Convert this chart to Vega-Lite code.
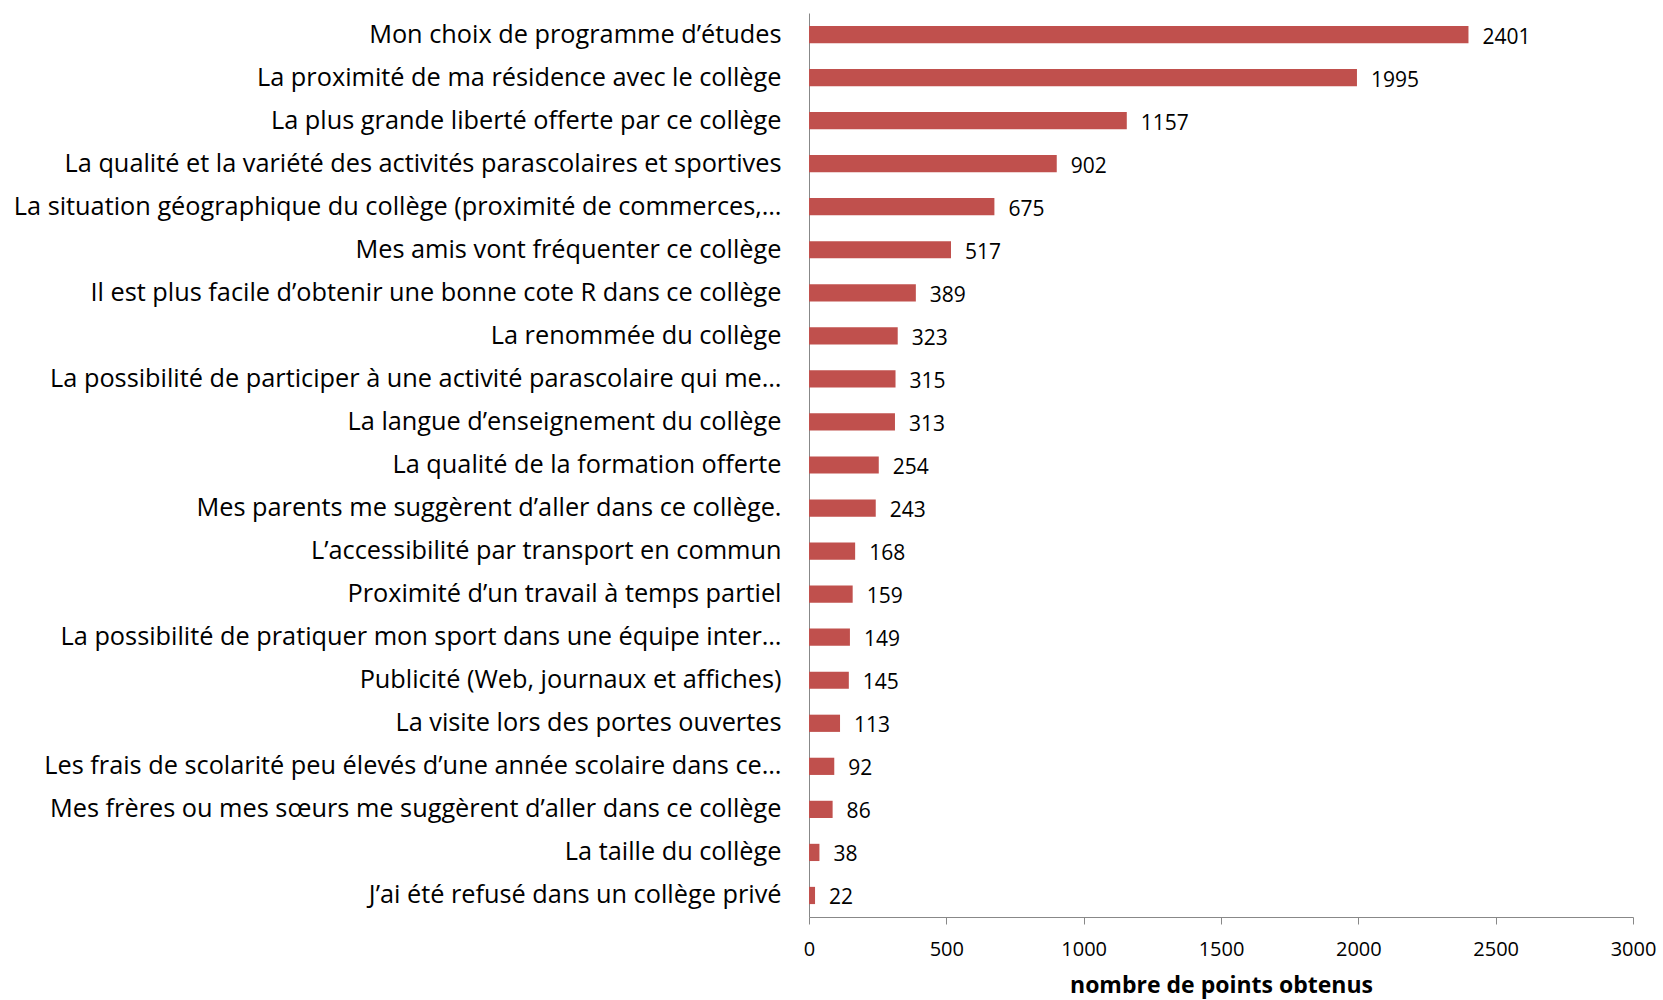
{
  "$schema": "https://vega.github.io/schema/vega-lite/v6.json",
  "width": 824,
  "height": 904,
  "autosize": "none",
  "padding": {"left": 809, "top": 13, "right": 30, "bottom": 83},
  "background": "white",
  "config": {
    "view": {"stroke": null},
    "font": "Open Sans, sans-serif"
  },
  "data": {
    "values": [
      {"raison": "Mon choix de programme  d’études", "points": 2401},
      {"raison": "La proximité de ma résidence avec le collège", "points": 1995},
      {"raison": "La plus grande liberté offerte par ce collège", "points": 1157},
      {"raison": "La qualité et la variété des activités parascolaires et sportives", "points": 902},
      {"raison": "La situation géographique du collège (proximité de commerces,…", "points": 675},
      {"raison": "Mes  amis vont fréquenter ce collège", "points": 517},
      {"raison": "Il est plus facile d’obtenir une bonne  cote R dans ce collège", "points": 389},
      {"raison": "La renommée du collège", "points": 323},
      {"raison": "La possibilité de participer à une activité parascolaire qui me…", "points": 315},
      {"raison": "La langue d’enseignement  du collège", "points": 313},
      {"raison": "La qualité de la formation offerte", "points": 254},
      {"raison": "Mes parents me  suggèrent d’aller dans ce collège.", "points": 243},
      {"raison": "L’accessibilité par transport  en commun", "points": 168},
      {"raison": "Proximité  d’un travail à temps partiel", "points": 159},
      {"raison": "La possibilité de pratiquer mon sport dans une équipe inter…", "points": 149},
      {"raison": "Publicité (Web, journaux et affiches)", "points": 145},
      {"raison": "La visite lors des portes ouvertes", "points": 113},
      {"raison": "Les frais de scolarité peu élevés d’une année scolaire dans ce…", "points": 92},
      {"raison": "Mes frères ou mes sœurs me suggèrent d’aller dans ce collège", "points": 86},
      {"raison": "La taille du collège", "points": 38},
      {"raison": "J’ai été refusé dans un collège privé", "points": 22}
    ]
  },
  "encoding": {
    "y": {
      "field": "raison",
      "type": "nominal",
      "sort": null,
      "scale": {"paddingInner": 0.6, "paddingOuter": 0.3},
      "axis": {
        "title": null,
        "ticks": false,
        "domainColor": "#888888",
        "labelFontSize": 25.3,
        "labelColor": "#000000",
        "labelPadding": 28,
        "labelLimit": 900
      }
    },
    "x": {
      "field": "points",
      "type": "quantitative",
      "scale": {"domain": [0, 3000], "nice": false},
      "axis": {
        "values": [0, 500, 1000, 1500, 2000, 2500, 3000],
        "format": "d",
        "title": "nombre de points obtenus",
        "titleFontSize": 23,
        "titleFontWeight": "bold",
        "titleColor": "#000000",
        "titlePadding": 15,
        "grid": false,
        "domainColor": "#888888",
        "tickColor": "#888888",
        "tickSize": 7,
        "labelFontSize": 20,
        "labelColor": "#000000",
        "labelPadding": 15,
        "labelFlush": false
      }
    }
  },
  "layer": [
    {"mark": {"type": "bar", "color": "#C0504D"}},
    {
      "mark": {"type": "text", "align": "left", "baseline": "middle", "dx": 14, "dy": 3, "fontSize": 21, "color": "#000000"},
      "encoding": {"text": {"field": "points", "type": "quantitative"}}
    }
  ]
}
